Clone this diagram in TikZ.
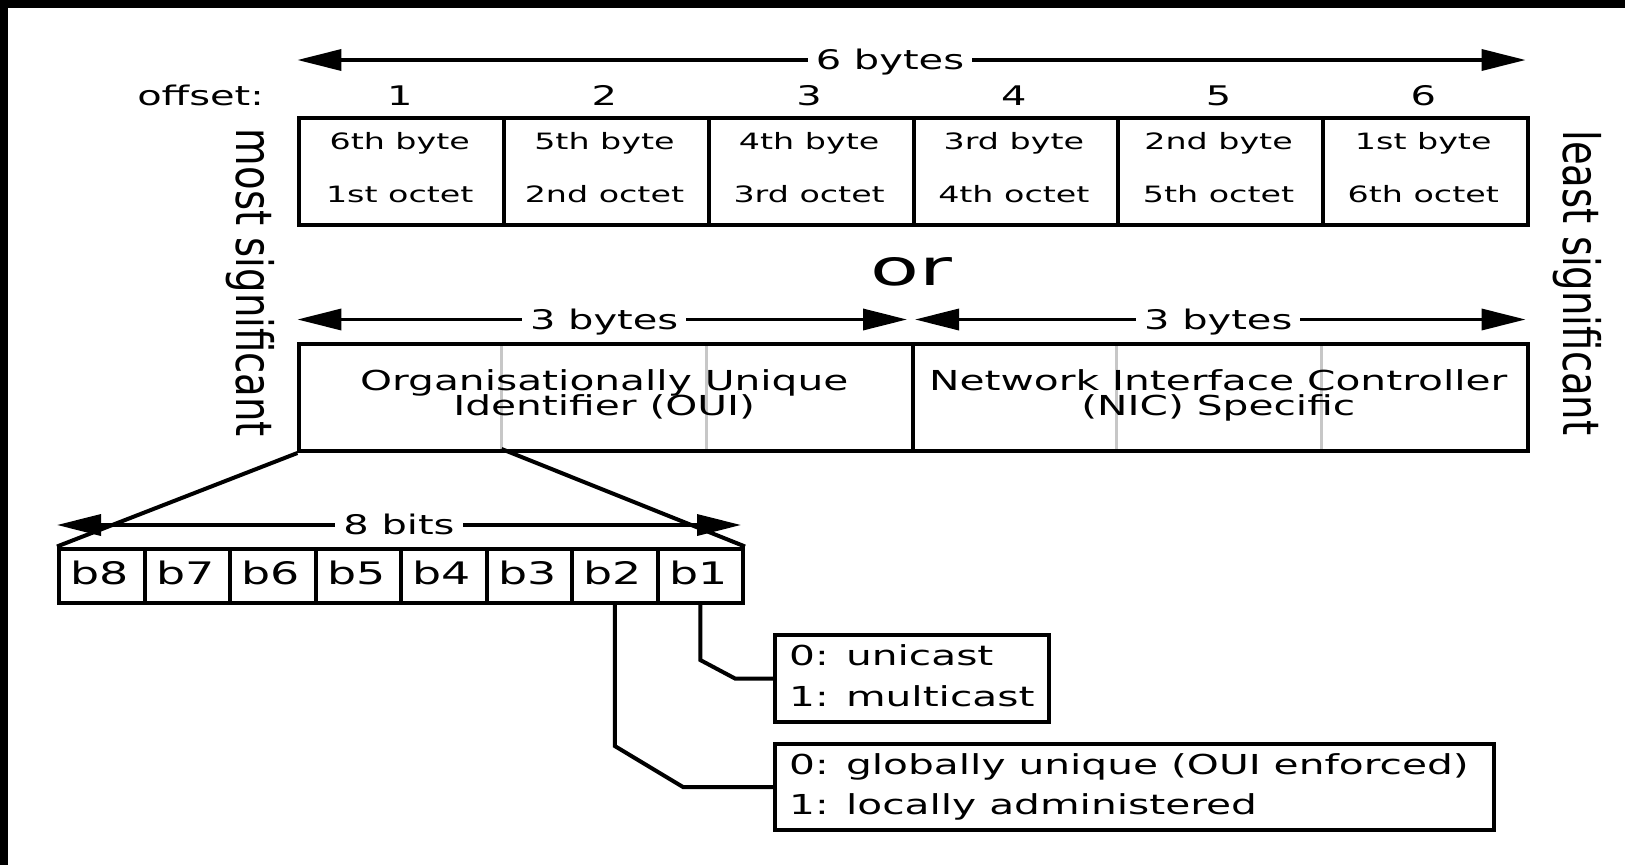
\documentclass[tikz,border=0pt]{standalone}
\usepackage{fontspec}
\setmainfont{DejaVu Sans}
\usepackage{graphicx}
\usetikzlibrary{arrows.meta}
\newcommand\sx{1.48}
\newcommand\wt[1]{\scalebox{\sx}[1]{#1}}
\newcommand\fsz[1]{\fontsize{#1}{#1}\selectfont}
\begin{document}
\begin{tikzpicture}[x=1pt,y=-1pt,
  box/.style={draw, line width=4pt, inner sep=0pt, anchor=north west},
  lbl/.style={inner sep=0pt, anchor=base, font={\fsz{27}}},
  small/.style={inner sep=0pt, anchor=base, font={\fsz{22.5}}},
  boxtxt/.style={inner sep=0pt, anchor=base west, font={\fsz{27.5}}},
  dim/.style={line width=3.5pt, {Triangle[length=44pt,width=21pt]}-{Triangle[length=44pt,width=21pt]}},
  conn/.style={line width=4pt},
  divider/.style={line width=3pt, draw=black!22},
  gap/.style={fill=white, inner xsep=8pt}]
\useasboundingbox (0,0) rectangle (1625,865);
\fill[white] (0,0) rectangle (1625,865);
\fill[black] (0,0) rectangle (1625,7.5);
\fill[black] (0,0) rectangle (7.5,865);

% 6 bytes arrow
\coordinate (a6l) at (297.4,60);
\coordinate (a6r) at (1525.6,60);
\draw[dim] (a6l) -- (a6r);
\node[lbl, gap] (six) at (890,69.7) {\wt{6 bytes}};

\node[lbl, anchor=base east] (off) at (264,105.7) {\wt{offset:}};

% top cells
\foreach \i/\a/\b in {1/6th byte/1st octet, 2/5th byte/2nd octet, 3/4th byte/3rd octet, 4/3rd byte/4th octet, 5/2nd byte/5th octet, 6/1st byte/6th octet} {
  \node[box, minimum width=204.7pt, minimum height=107pt] (c\i) at ({297.4+204.7*(\i-1)},115.5) {};
  \node[lbl] (o\i) at ({297.4+204.7*(\i-1)+102.35},105.7) {\wt{\i}};
  \node[small] (c\i a) at ({297.4+204.7*(\i-1)+102.35},149) {\wt{\a}};
  \node[small] (c\i b) at ({297.4+204.7*(\i-1)+102.35},202.6) {\wt{\b}};
}

\node[lbl, font={\fsz{50}}] (or) at (911,285) {\scalebox{1.6}[1]{or}};

% 3 bytes arrows
\coordinate (t1) at (297.4,319.5);
\coordinate (t2) at (907,319.5);
\coordinate (t3) at (915,319.5);
\coordinate (t4) at (1525.6,319.5);
\draw[dim] (t1) -- (t2);
\draw[dim] (t3) -- (t4);
\node[lbl, gap] (tb1) at (604.2,329.2) {\wt{3 bytes}};
\node[lbl, gap] (tb2) at (1218.3,329.2) {\wt{3 bytes}};

% OUI / NIC
\coordinate (g1) at (501.6,449);
\draw[divider] (501.6,342) -- (g1);
\draw[divider] (706.8,342) -- (706.8,449);
\draw[divider] (1116.2,342) -- (1116.2,449);
\draw[divider] (1321.4,342) -- (1321.4,449);
\node[box, minimum width=613.6pt, minimum height=107pt] (oui) at (297.4,342) {};
\node[box, minimum width=614.6pt, minimum height=107pt] (nic) at (911,342) {};
\node[lbl, font={\fsz{27.5}}] (oui1) at (604.2,390.4) {\wt{Organisationally Unique}};
\node[lbl, font={\fsz{27.5}}] (oui2) at (604.2,415.9) {\wt{Identifier (OUI)}};
\node[lbl, font={\fsz{27.5}}] (nic1) at (1218.3,390.4) {\wt{Network Interface Controller}};
\node[lbl, font={\fsz{27.5}}] (nic2) at (1218.3,415.9) {\wt{(NIC) Specific}};

% side labels
\node[inner sep=0pt, font={\fsz{38.6}}] (ms) at (250,283) {\scalebox{1.3}[1]{\rotatebox{-90}{most significant}}};
\node[inner sep=0pt, font={\fsz{38.6}}] (ls) at (1577,283) {\scalebox{1.3}[1]{\rotatebox{-90}{least significant}}};

% bits
\foreach \i in {1,...,8} {
  \node[box, minimum width=85.5pt, minimum height=54.5pt] (b\i) at ({57+85.5*(8-\i)},546.5) {};
  \node[lbl, font={\fsz{31}}] (bl\i) at ({57+85.5*(8-\i)+42.75},584.7) {\wt{b\i}};
}
\draw[conn] (oui.south west) -- (b8.north west);
\draw[conn] (g1) -- (b1.north east);
\coordinate (bl) at (57,525);
\coordinate (br) at (741,525);
\draw[dim] (bl) -- (br);
\node[lbl, gap] (eb) at (399,534.7) {\wt{8 bits}};

% flag boxes
\node[box, minimum width=274pt, minimum height=87pt] (uni) at (773,633) {};
\node[box, minimum width=719pt, minimum height=86pt] (glob) at (773,742) {};
\node[boxtxt] (u1) at (789,665) {\wt{0: unicast}};
\node[boxtxt] (u2) at (789,706) {\wt{1: multicast}};
\node[boxtxt] (g1t) at (789,774) {\wt{0: globally unique (OUI enforced)}};
\node[boxtxt] (g2t) at (789,814) {\wt{1: locally administered}};

\draw[conn] (b1.south) -- ++(0,55) -- ([xshift=-38pt]uni.west) -- (uni.west);
\draw[conn] (b2.south) -- ++(0,141) -- ([xshift=-90pt]glob.west) -- (glob.west);
\end{tikzpicture}
\end{document}
